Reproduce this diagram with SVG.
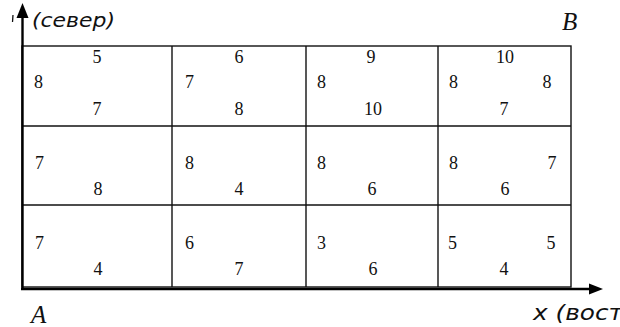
<svg xmlns="http://www.w3.org/2000/svg" width="620" height="327" viewBox="0 0 620 327">
<defs>
<style>
.grid{fill:none;stroke:#111;stroke-width:1.4}
.axis{fill:none;stroke:#000;stroke-width:2.4}
.n{font-family:"Liberation Serif","Times New Roman",serif;font-size:18px;fill:#111}
.c{text-anchor:middle}
.lbl{font-family:"Liberation Serif","Times New Roman",serif;font-style:italic;fill:#111}
.sl{font-family:"DejaVu Sans","Liberation Sans",sans-serif;font-style:italic;fill:#111}
</style>
</defs>
<rect width="620" height="327" fill="#fff"/>
<g id="grid">
<rect class="grid" x="22" y="46" width="549" height="241"/>
<line class="grid" x1="172" y1="46" x2="172" y2="287"/>
<line class="grid" x1="306" y1="46" x2="306" y2="287"/>
<line class="grid" x1="438" y1="46" x2="438" y2="287"/>
<line class="grid" x1="22" y1="126" x2="571" y2="126"/>
<line class="grid" x1="22" y1="205" x2="571" y2="205"/>
</g>
<g id="axes">
<line class="axis" x1="22.5" y1="290" x2="22.5" y2="14"/>
<polygon points="22.5,3 16.5,18 28.5,18" fill="#000"/>
<line class="axis" x1="21" y1="289" x2="592" y2="289"/>
<polygon points="603,289 589,283.5 589,294.5" fill="#000"/>
<line x1="13" y1="15" x2="12.5" y2="22" stroke="#111" stroke-width="1.3"/>
</g>
<g id="labels">
<text class="sl" x="32" y="27" font-size="20" textLength="83" lengthAdjust="spacingAndGlyphs">(север)</text>
<text class="lbl" x="562" y="30" font-size="25">B</text>
<text class="lbl" x="31" y="323" font-size="25">A</text>
<text class="sl" x="533" y="320" font-size="21" textLength="90" lengthAdjust="spacingAndGlyphs">x (вост</text>
</g>
<g id="row1">
<text class="n c" x="97" y="63">5</text>
<text class="n" x="34" y="88">8</text>
<text class="n c" x="97" y="115">7</text>
<text class="n c" x="239" y="63">6</text>
<text class="n" x="185" y="88">7</text>
<text class="n c" x="239" y="115">8</text>
<text class="n c" x="371" y="63">9</text>
<text class="n" x="317" y="88">8</text>
<text class="n c" x="373" y="115">10</text>
<text class="n c" x="505" y="63">10</text>
<text class="n" x="449" y="88">8</text>
<text class="n c" x="547" y="88">8</text>
<text class="n c" x="504" y="115">7</text>
</g>
<g id="row2">
<text class="n" x="35" y="169">7</text>
<text class="n c" x="98" y="195">8</text>
<text class="n" x="185" y="169">8</text>
<text class="n c" x="239" y="195">4</text>
<text class="n" x="317" y="169">8</text>
<text class="n c" x="372" y="195">6</text>
<text class="n" x="449" y="169">8</text>
<text class="n c" x="552" y="169">7</text>
<text class="n c" x="505" y="195">6</text>
</g>
<g id="row3">
<text class="n" x="35" y="249">7</text>
<text class="n c" x="98" y="275">4</text>
<text class="n" x="185" y="249">6</text>
<text class="n c" x="239" y="275">7</text>
<text class="n" x="317" y="249">3</text>
<text class="n c" x="373" y="275">6</text>
<text class="n" x="448" y="249">5</text>
<text class="n c" x="551" y="249">5</text>
<text class="n c" x="504" y="275">4</text>
</g>
</svg>
